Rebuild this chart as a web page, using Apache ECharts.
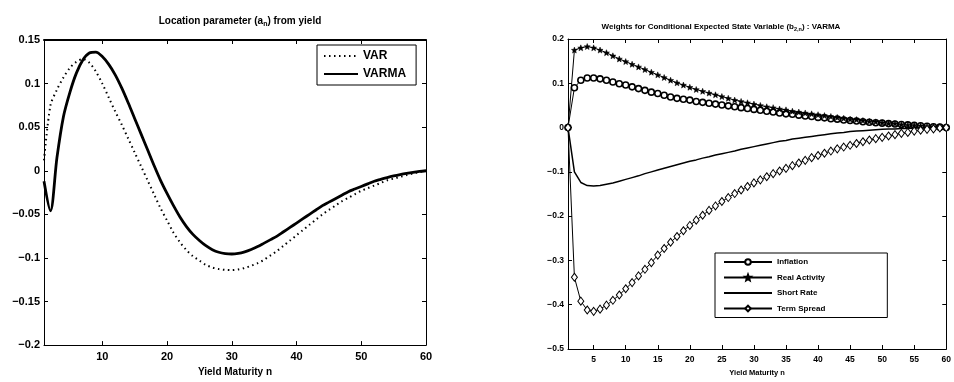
<!DOCTYPE html>
<html>
<head>
<meta charset="utf-8">
<script src="https://cdn.jsdelivr.net/npm/echarts@6/dist/echarts.min.js"></script>
<style>html,body{margin:0;padding:0;background:#fff}#c{width:954px;height:382px}</style>
</head>
<body>
<div id="c"></div>
<script>
const maturity = [1,2,3,4,5,6,7,8,9,10,11,12,13,14,15,16,17,18,19,20,21,22,23,24,25,26,27,28,29,30,31,32,33,34,35,36,37,38,39,40,41,42,43,44,45,46,47,48,49,50,51,52,53,54,55,56,57,58,59,60];

const varA = [0.012,0.075,0.093,0.107,0.118,0.125,0.128,0.124,0.114,0.100,0.084,0.068,0.053,0.037,0.021,0.005,-0.011,-0.027,-0.043,-0.057,-0.071,-0.082,-0.091,-0.098,-0.103,-0.108,-0.111,-0.1128,-0.1137,-0.114,-0.1133,-0.1115,-0.109,-0.106,-0.102,-0.097,-0.092,-0.086,-0.080,-0.074,-0.068,-0.062,-0.056,-0.050,-0.045,-0.040,-0.035,-0.031,-0.027,-0.023,-0.020,-0.017,-0.014,-0.011,-0.009,-0.007,-0.005,-0.003,-0.0015,0.000];
const varmaA = [-0.012,-0.046,0.015,0.062,0.090,0.112,0.127,0.135,0.136,0.131,0.122,0.110,0.095,0.078,0.060,0.042,0.024,0.006,-0.011,-0.026,-0.040,-0.053,-0.064,-0.073,-0.080,-0.086,-0.0905,-0.0935,-0.095,-0.0955,-0.0948,-0.093,-0.0903,-0.087,-0.083,-0.079,-0.075,-0.070,-0.065,-0.060,-0.055,-0.050,-0.045,-0.040,-0.036,-0.032,-0.028,-0.024,-0.021,-0.018,-0.015,-0.012,-0.0098,-0.0078,-0.006,-0.0044,-0.003,-0.0018,-0.0008,0.000];

const inflation = [0,0.090,0.107,0.112,0.112,0.110,0.107,0.103,0.099,0.096,0.092,0.088,0.084,0.080,0.077,0.073,0.069,0.066,0.064,0.062,0.059,0.057,0.055,0.053,0.051,0.049,0.047,0.045,0.043,0.041,0.039,0.037,0.035,0.033,0.031,0.030,0.028,0.026,0.025,0.023,0.022,0.020,0.019,0.017,0.016,0.015,0.013,0.012,0.011,0.010,0.009,0.008,0.007,0.006,0.005,0.004,0.003,0.002,0.001,0];
const realActivity = [0,0.175,0.180,0.183,0.180,0.175,0.169,0.162,0.155,0.149,0.143,0.137,0.131,0.125,0.119,0.113,0.107,0.101,0.096,0.091,0.086,0.082,0.078,0.074,0.070,0.066,0.062,0.059,0.056,0.053,0.050,0.047,0.045,0.042,0.040,0.037,0.035,0.033,0.031,0.029,0.027,0.025,0.023,0.021,0.019,0.018,0.016,0.014,0.013,0.011,0.010,0.009,0.007,0.006,0.005,0.004,0.003,0.002,0.001,0];
const shortRate = [0,-0.100,-0.124,-0.131,-0.132,-0.131,-0.128,-0.125,-0.121,-0.117,-0.113,-0.109,-0.104,-0.100,-0.096,-0.092,-0.088,-0.084,-0.080,-0.076,-0.073,-0.069,-0.066,-0.062,-0.059,-0.056,-0.053,-0.049,-0.046,-0.043,-0.040,-0.037,-0.034,-0.031,-0.029,-0.026,-0.024,-0.022,-0.020,-0.018,-0.016,-0.014,-0.012,-0.011,-0.009,-0.008,-0.007,-0.006,-0.005,-0.004,-0.003,-0.003,-0.002,-0.002,-0.001,-0.001,-0.001,0,0,0];
const termSpread = [0,-0.338,-0.392,-0.412,-0.415,-0.410,-0.401,-0.390,-0.378,-0.364,-0.350,-0.335,-0.320,-0.305,-0.288,-0.273,-0.259,-0.246,-0.233,-0.221,-0.209,-0.198,-0.187,-0.177,-0.167,-0.158,-0.149,-0.141,-0.133,-0.125,-0.118,-0.111,-0.104,-0.098,-0.092,-0.086,-0.080,-0.074,-0.068,-0.063,-0.058,-0.053,-0.048,-0.044,-0.040,-0.036,-0.032,-0.028,-0.025,-0.022,-0.019,-0.016,-0.013,-0.011,-0.008,-0.006,-0.004,-0.003,-0.001,0];

const leftXTicks = [10,20,30,40,50,60];
const rightXTicks = [5,10,15,20,25,30,35,40,45,50,55,60];

const pairs = arr => maturity.map((m, i) => [m, arr[i]]);
const FONT = '"Liberation Sans", Arial, sans-serif';
const starPath = 'path://M0,-10 L2.6,-3.2 L9.5,-3.1 L4.2,1.3 L5.9,8.1 L0,4.3 L-5.9,8.1 L-4.2,1.3 L-9.5,-3.1 L-2.6,-3.2 Z';
const noMark = {color: 'transparent', borderColor: 'transparent', borderWidth: 0};

function xAxisBase(grid, ticks, fs, name, gap) {
  return [{
    type: 'value', gridIndex: grid, min: 1, max: 60, position: 'bottom',
    axisLine: {show: true, onZero: false, lineStyle: {color: '#000', width: 1}},
    axisTick: {show: true, inside: true, length: 4, customValues: ticks, lineStyle: {color: '#000'}},
    axisLabel: {customValues: ticks, color: '#000', fontWeight: 'bold', fontSize: fs, fontFamily: FONT, margin: 6},
    splitLine: {show: false},
    name: name, nameLocation: 'middle', nameGap: gap,
    nameTextStyle: {color: '#000', fontWeight: 'bold', fontSize: fs - 1, fontFamily: FONT}
  }, {
    type: 'value', gridIndex: grid, min: 1, max: 60, position: 'top',
    axisLine: {show: true, onZero: false, lineStyle: {color: '#000', width: grid === 0 ? 2 : 1}},
    axisTick: {show: true, inside: true, length: 4, customValues: ticks, lineStyle: {color: '#000'}},
    axisLabel: {show: false}, splitLine: {show: false}
  }];
}
function yAxisBase(grid, min, max, interval, fs, fmt) {
  return [{
    type: 'value', gridIndex: grid, min: min, max: max, interval: interval, position: 'left',
    axisLine: {show: true, onZero: false, lineStyle: {color: '#000'}},
    axisTick: {show: true, inside: true, length: 4, lineStyle: {color: '#000'}},
    axisLabel: {color: '#000', fontWeight: 'bold', fontSize: fs, fontFamily: FONT, margin: 4, formatter: fmt},
    splitLine: {show: false}
  }, {
    type: 'value', gridIndex: grid, min: min, max: max, interval: interval, position: 'right',
    axisLine: {show: true, onZero: false, lineStyle: {color: '#000'}},
    axisTick: {show: true, inside: true, length: 4, lineStyle: {color: '#000'}},
    axisLabel: {show: false}, splitLine: {show: false}
  }];
}
const fmtL = v => { const r = Math.round(v * 100) / 100; return r === 0 ? '0' : String(r).replace('-', '\u2212'); };
const fmtR = v => { const r = Math.round(v * 10) / 10; return r === 0 ? '0' : String(r).replace('-', '\u2212'); };

const chart = echarts.init(document.getElementById('c'));
chart.setOption({
  backgroundColor: '#fff',
  animation: false,
  title: [{
    text: '{a|Location parameter (a}{s|n}{a|) from yield}',
    left: 235, top: 10, textAlign: 'center',
    textStyle: {rich: {
      a: {fontSize: 10, fontWeight: 'bold', fontFamily: FONT, color: '#000'},
      s: {fontSize: 7, fontWeight: 'bold', fontFamily: FONT, color: '#000', verticalAlign: 'bottom', padding: [6, 0, 0, 0]}
    }}
  }, {
    text: '{a|Weights for Conditional Expected State Variable (b}{s|2,n}{a|) : VARMA}',
    left: 716, top: 16, textAlign: 'center',
    textStyle: {rich: {
      a: {fontSize: 8, fontWeight: 'bold', fontFamily: FONT, color: '#000'},
      s: {fontSize: 5.5, fontWeight: 'bold', fontFamily: FONT, color: '#000', verticalAlign: 'bottom', padding: [5, 0, 0, 0]}
    }}
  }],
  grid: [
    {left: 44, right: 528, top: 40, bottom: 33},
    {left: 568, right: 4, top: 39, bottom: 33}
  ],
  xAxis: [].concat(xAxisBase(0, leftXTicks, 11, 'Yield Maturity n', 21), xAxisBase(1, rightXTicks, 8.5, 'Yield Maturity n', 18)),
  yAxis: [].concat(yAxisBase(0, -0.2, 0.15, 0.05, 11, fmtL), yAxisBase(1, -0.5, 0.2, 0.1, 8.5, fmtR)),
  legend: [{
    data: [{name: 'VAR', itemStyle: noMark}, {name: 'VARMA', itemStyle: noMark}],
    orient: 'vertical', left: 317, top: 45,
    width: 100, itemWidth: 34, itemHeight: 10, itemGap: 6,
    padding: [5, 10, 5, 6], borderColor: '#000', borderWidth: 1,
    textStyle: {color: '#000', fontWeight: 'bold', fontSize: 12, fontFamily: FONT}
  }, {
    data: ['Inflation', 'Real Activity', {name: 'Short Rate', itemStyle: noMark}, 'Term Spread'],
    orient: 'vertical', left: 715, top: 253,
    itemWidth: 48, itemHeight: 7, itemGap: 7.5,
    padding: [5, 62, 5, 8], borderColor: '#000', borderWidth: 1,
    textStyle: {color: '#000', fontWeight: 'bold', fontSize: 8, fontFamily: FONT}
  }],
  series: [{
    name: 'VAR', type: 'line', xAxisIndex: 0, yAxisIndex: 0, data: pairs(varA),
    showSymbol: false, symbol: 'none', smooth: 0.3,
    lineStyle: {color: '#000', width: 2, type: [1.5, 3.5]}, itemStyle: {color: '#000'}
  }, {
    name: 'VARMA', type: 'line', xAxisIndex: 0, yAxisIndex: 0, data: pairs(varmaA),
    showSymbol: false, symbol: 'none', smooth: 0.3,
    lineStyle: {color: '#000', width: 2.8}, itemStyle: {color: '#000'}
  }, {
    name: 'Inflation', type: 'line', xAxisIndex: 2, yAxisIndex: 2, data: pairs(inflation),
    symbol: 'circle', symbolSize: 6, showAllSymbol: true,
    lineStyle: {color: '#000', width: 1}, itemStyle: {color: '#fff', borderColor: '#000', borderWidth: 1.6}
  }, {
    name: 'Real Activity', type: 'line', xAxisIndex: 2, yAxisIndex: 2, data: pairs(realActivity),
    symbol: starPath, symbolSize: 6, showAllSymbol: true,
    lineStyle: {color: '#000', width: 1}, itemStyle: {color: '#000', borderColor: '#000', borderWidth: 0.5}
  }, {
    name: 'Short Rate', type: 'line', xAxisIndex: 2, yAxisIndex: 2, data: pairs(shortRate),
    symbol: 'none', showSymbol: false,
    lineStyle: {color: '#000', width: 1.5}, itemStyle: {color: '#000'}
  }, {
    name: 'Term Spread', type: 'line', xAxisIndex: 2, yAxisIndex: 2, data: pairs(termSpread),
    symbol: 'diamond', symbolSize: [6, 8], showAllSymbol: true,
    lineStyle: {color: '#000', width: 1}, itemStyle: {color: '#fff', borderColor: '#000', borderWidth: 1}
  }]
});
</script>
</body>
</html>
